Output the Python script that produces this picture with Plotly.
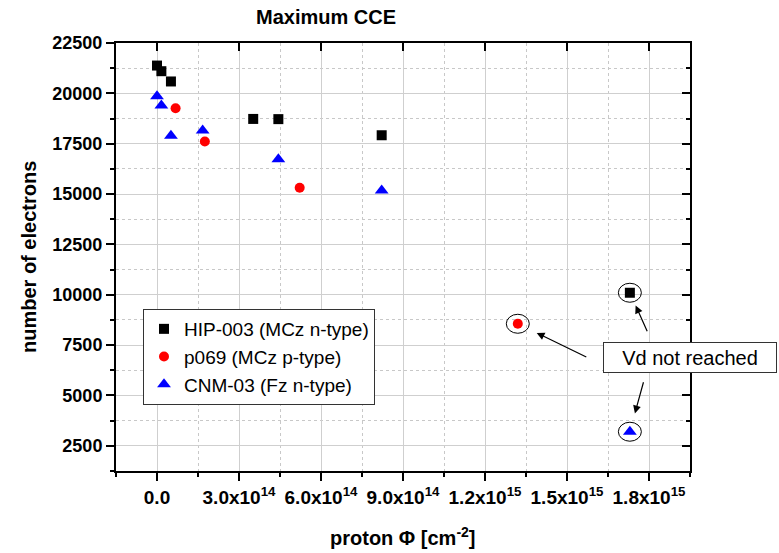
import plotly.graph_objects as go

# ---------------- data ----------------
hip_x = [0, 1.6e13, 5.1e13, 3.52e14, 4.44e14, 8.22e14, 1.73e15]
hip_y = [21380, 21100, 20590, 18730, 18720, 17920, 10100]

p069_x = [6.8e13, 1.75e14, 5.22e14, 1.32e15]
p069_y = [19260, 17610, 15310, 8560]

cnm_x = [0, 1.6e13, 5.1e13, 1.67e14, 4.44e14, 8.22e14, 1.73e15]
cnm_y = [19850, 19400, 17900, 18150, 16730, 15180, 3200]

series_names = ["HIP-003 (MCz n-type)", "p069 (MCz p-type)", "CNM-03 (Fz n-type)"]

x_tickvals = [0, 3e14, 6e14, 9e14, 1.2e15, 1.5e15, 1.8e15]
x_ticktext = ["0.0", "3.0x10<sup>14</sup>", "6.0x10<sup>14</sup>", "9.0x10<sup>14</sup>",
              "1.2x10<sup>15</sup>", "1.5x10<sup>15</sup>", "1.8x10<sup>15</sup>"]
y_tickvals = [2500, 5000, 7500, 10000, 12500, 15000, 17500, 20000, 22500]
y_ticktext = [str(v) for v in y_tickvals]

x_range = [-1.5e14, 1.95e15]
y_range = [1250, 22500]

note_text = "Vd not reached"

# ---------------- figure ----------------
FONT = "Arial, Liberation Sans, sans-serif"
fig = go.Figure()

fig.add_trace(go.Scatter(x=hip_x, y=hip_y, mode="markers", name=series_names[0],
                         marker=dict(symbol="square", size=10, color="black")))
fig.add_trace(go.Scatter(x=p069_x, y=p069_y, mode="markers", name=series_names[1],
                         marker=dict(symbol="circle", size=10, color="red")))
fig.add_trace(go.Scatter(x=cnm_x, y=cnm_y, mode="markers", name=series_names[2],
                         marker=dict(symbol="triangle-up", size=12, color="blue")))
# dummy trace for the mirrored (top/right) axes
fig.add_trace(go.Scatter(x=[None], y=[None], xaxis="x2", yaxis="y2", showlegend=False,
                         hoverinfo="skip"))

axis_common = dict(showline=True, linecolor="black", linewidth=2, zeroline=False)

fig.update_layout(
    width=779, height=553,
    margin=dict(l=116, r=89, t=43, b=82),
    plot_bgcolor="white", paper_bgcolor="white",
    font=dict(family=FONT, color="black"),
    showlegend=True,
    title=dict(text="<b>Maximum CCE</b>", font=dict(size=20, family=FONT),
               xref="paper", x=(326 - 116) / 574, xanchor="center",
               yref="container", y=1 - 17 / 553, yanchor="middle"),
    xaxis=dict(range=x_range, tickvals=x_tickvals, ticktext=x_ticktext,
               ticks="outside", ticklen=8, tickwidth=1.5, tickcolor="black",
               tickfont=dict(size=19, family=FONT, weight="bold"),
               showgrid=True, gridcolor="#cfcfcf", gridwidth=1,
               minor=dict(dtick=1.5e14, tick0=0, ticks="outside", ticklen=4, tickwidth=1.5,
                          tickcolor="black", showgrid=True, gridcolor="#c8c8c8",
                          griddash="dot", gridwidth=1),
               **axis_common),
    yaxis=dict(range=y_range, tickvals=y_tickvals, ticktext=y_ticktext,
               ticks="outside", ticklen=8, tickwidth=1.5, tickcolor="black",
               tickfont=dict(size=18, family=FONT, weight="bold"),
               showgrid=True, gridcolor="#cfcfcf", gridwidth=1,
               minor=dict(dtick=1250, tick0=0, ticks="outside", ticklen=4, tickwidth=1.5,
                          tickcolor="black", showgrid=True, gridcolor="#c8c8c8",
                          griddash="dot", gridwidth=1),
               **axis_common),
    xaxis2=dict(range=x_range, overlaying="x", side="top", anchor="y",
                tickvals=x_tickvals, showticklabels=False,
                ticks="inside", ticklen=8, tickwidth=1.5, tickcolor="black",
                showgrid=False, **axis_common),
    yaxis2=dict(range=y_range, overlaying="y", side="right", anchor="x",
                tickvals=y_tickvals, showticklabels=False,
                ticks="inside", ticklen=8, tickwidth=1.5, tickcolor="black",
                minor=dict(dtick=1250, tick0=0, ticks="inside", ticklen=4, tickwidth=1.5,
                           tickcolor="black", showgrid=False),
                showgrid=False, **axis_common),
    legend=dict(x=(143 - 116) / 574, y=(471 - 309) / 428, xanchor="left", yanchor="top",
                bgcolor="white", bordercolor="#333333", borderwidth=1,
                font=dict(size=19, family=FONT), tracegroupgap=0, itemwidth=30,
                entrywidth=265, entrywidthmode="pixels"),
)

# axis titles
fig.add_annotation(text="<b>number of electrons</b>", xref="paper", yref="paper",
                   x=0, y=0.5, xanchor="center", yanchor="middle", xshift=-(116 - 29),
                   textangle=-90, showarrow=False, font=dict(size=20, family=FONT))
fig.add_annotation(text="<b>proton Φ [cm<sup>-2</sup>]</b>", xref="paper", yref="paper",
                   x=0.5, y=0, xanchor="center", yanchor="middle", yshift=-(536 - 471),
                   showarrow=False, font=dict(size=20, family=FONT))

# ellipses around the "Vd not reached" points (last point of every series)
for xs, ys in [(hip_x, hip_y), (p069_x, p069_y), (cnm_x, cnm_y)]:
    fig.add_shape(type="circle", xref="x", yref="y",
                  xsizemode="pixel", xanchor=xs[-1], x0=-11.5, x1=11.5,
                  ysizemode="pixel", yanchor=ys[-1], y0=-9.5, y1=9.5,
                  line=dict(color="black", width=1), fillcolor="rgba(0,0,0,0)")

# arrows from the note to those points
arrow_specs = [  # (x, y, tail dx, tail dy, standoff)
    (p069_x[-1], p069_y[-1], 70, 34, 21),
    (hip_x[-1], hip_y[-1], 18, 40, 14),
    (cnm_x[-1], cnm_y[-1], 14, -51, 19),
]
for x, y, ax, ay, so in arrow_specs:
    fig.add_annotation(x=x, y=y, xref="x", yref="y", text="", showarrow=True,
                       ax=ax, ay=ay, arrowhead=2, arrowsize=1.3, arrowwidth=1.2,
                       arrowcolor="black", standoff=so)

# note box
fig.add_annotation(text=note_text, xref="paper", yref="paper",
                   x=(690 - 116) / 574, y=(471 - 357.7) / 428,
                   xanchor="center", yanchor="middle", showarrow=False,
                   width=166, height=23, borderpad=3, align="center",
                   bgcolor="white", bordercolor="#333333", borderwidth=1,
                   font=dict(size=20, family=FONT))

fig.write_html("out.html")
